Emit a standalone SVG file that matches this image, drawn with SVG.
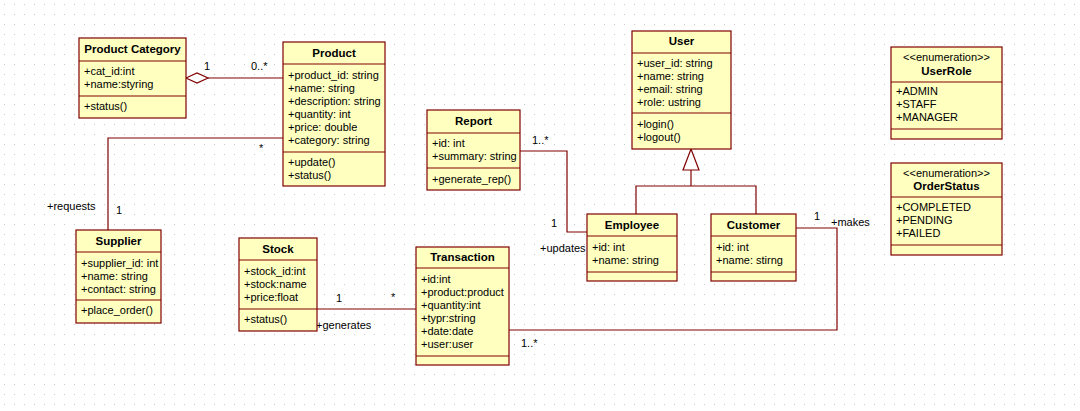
<svg xmlns="http://www.w3.org/2000/svg" width="1080" height="411" viewBox="0 0 1080 411">
<defs>
<pattern id="grid" width="10" height="10" patternUnits="userSpaceOnUse"><rect x="4" y="4" width="1" height="1" fill="#c8c8c8"/></pattern>
<style>
.box{fill:#ffffc0;stroke:#800000;stroke-width:1.2}
.sep{stroke:#800000;stroke-width:1.2}
.t{font-family:"Liberation Sans",Arial,sans-serif;font-size:11px;fill:#000}
.b{font-family:"Liberation Sans",Arial,sans-serif;font-size:11.5px;font-weight:bold;fill:#000;text-anchor:middle}
.c{text-anchor:middle}
.e{fill:none;stroke:#800000;stroke-width:1.2}
.h{fill:#fff;stroke:#800000;stroke-width:1.2}
</style>
</defs>
<rect width="1080" height="411" fill="#fff"/>
<rect width="1080" height="411" fill="url(#grid)"/>

<g id="connectors">
<polygon class="h" points="186,78 197,73 208,78 197,83"/>
<line class="e" x1="208" y1="78" x2="283" y2="78"/>
<polyline class="e" points="283,138 108,138 108,230"/>
<polyline class="e" points="520,151 567,151 567,232 587,232"/>
<polyline class="e" points="691,170 691,186"/>
<polyline class="e" points="636,214 636,186 756,186 756,214"/>
<polygon class="h" points="691,149 683,170 699,170"/>
<polyline class="e" points="796,228 837,228 837,330 509,330"/>
<line class="e" x1="317" y1="309" x2="416" y2="309"/>
<text class="t" x="204" y="70">1</text>
<text class="t" x="251" y="70">0..*</text>
<text class="t" x="259" y="152">*</text>
<text class="t" x="47" y="210">+requests</text>
<text class="t" x="116" y="214">1</text>
<text class="t" x="532" y="144">1..*</text>
<text class="t" x="551" y="227">1</text>
<text class="t" x="540" y="252">+updates</text>
<text class="t" x="814" y="220">1</text>
<text class="t" x="831" y="226">+makes</text>
<text class="t" x="521" y="347">1..*</text>
<text class="t" x="336" y="302">1</text>
<text class="t" x="391" y="301">*</text>
<text class="t" x="316" y="329">+generates</text>
</g>

<g id="product-category">
<rect class="box" x="79" y="38" width="107" height="80"/>
<line class="sep" x1="79" y1="61" x2="186" y2="61"/>
<line class="sep" x1="79" y1="96" x2="186" y2="96"/>
<text class="b" x="132.5" y="53">Product Category</text>
<text class="t" x="84" y="75">+cat_id:int</text>
<text class="t" x="84" y="88">+name:styring</text>
<text class="t" x="84" y="110">+status()</text>
</g>

<g id="product">
<rect class="box" x="283" y="42" width="102" height="144"/>
<line class="sep" x1="283" y1="64" x2="385" y2="64"/>
<line class="sep" x1="283" y1="152" x2="385" y2="152"/>
<text class="b" x="334" y="57">Product</text>
<text class="t" x="288" y="79">+product_id: string</text>
<text class="t" x="288" y="92">+name: string</text>
<text class="t" x="288" y="105">+description: string</text>
<text class="t" x="288" y="118">+quantity: int</text>
<text class="t" x="288" y="131">+price: double</text>
<text class="t" x="288" y="144">+category: string</text>
<text class="t" x="288" y="166">+update()</text>
<text class="t" x="288" y="179">+status()</text>
</g>

<g id="supplier">
<rect class="box" x="76" y="230" width="85" height="93"/>
<line class="sep" x1="76" y1="252" x2="161" y2="252"/>
<line class="sep" x1="76" y1="300" x2="161" y2="300"/>
<text class="b" x="118.5" y="245">Supplier</text>
<text class="t" x="81" y="267">+supplier_id: int</text>
<text class="t" x="81" y="280">+name: string</text>
<text class="t" x="81" y="293">+contact: string</text>
<text class="t" x="81" y="314">+place_order()</text>
</g>

<g id="report">
<rect class="box" x="427" y="110" width="93" height="80"/>
<line class="sep" x1="427" y1="133" x2="520" y2="133"/>
<line class="sep" x1="427" y1="168" x2="520" y2="168"/>
<text class="b" x="473.5" y="125">Report</text>
<text class="t" x="432" y="147">+id: int</text>
<text class="t" x="432" y="160">+summary: string</text>
<text class="t" x="432" y="183">+generate_rep()</text>
</g>

<g id="user">
<rect class="box" x="632" y="31" width="99" height="118"/>
<line class="sep" x1="632" y1="53" x2="731" y2="53"/>
<line class="sep" x1="632" y1="113" x2="731" y2="113"/>
<text class="b" x="681.5" y="45">User</text>
<text class="t" x="637" y="67">+user_id: string</text>
<text class="t" x="637" y="80">+name: string</text>
<text class="t" x="637" y="93">+email: string</text>
<text class="t" x="637" y="106">+role: ustring</text>
<text class="t" x="637" y="128">+login()</text>
<text class="t" x="637" y="141">+logout()</text>
</g>

<g id="employee">
<rect class="box" x="587" y="214" width="90" height="67"/>
<line class="sep" x1="587" y1="236" x2="677" y2="236"/>
<line class="sep" x1="587" y1="272" x2="677" y2="272"/>
<text class="b" x="632" y="229">Employee</text>
<text class="t" x="592" y="251">+id: int</text>
<text class="t" x="592" y="264">+name: string</text>
</g>

<g id="customer">
<rect class="box" x="711" y="214" width="85" height="67"/>
<line class="sep" x1="711" y1="236" x2="796" y2="236"/>
<line class="sep" x1="711" y1="272" x2="796" y2="272"/>
<text class="b" x="753.5" y="229">Customer</text>
<text class="t" x="716" y="251">+id: int</text>
<text class="t" x="716" y="264">+name: stirng</text>
</g>

<g id="stock">
<rect class="box" x="239" y="238" width="78" height="93"/>
<line class="sep" x1="239" y1="260" x2="317" y2="260"/>
<line class="sep" x1="239" y1="309" x2="317" y2="309"/>
<text class="b" x="278" y="253">Stock</text>
<text class="t" x="244" y="275">+stock_id:int</text>
<text class="t" x="244" y="288">+stock:name</text>
<text class="t" x="244" y="301">+price:float</text>
<text class="t" x="244" y="323">+status()</text>
</g>

<g id="transaction">
<rect class="box" x="416" y="247" width="93" height="118"/>
<line class="sep" x1="416" y1="268" x2="509" y2="268"/>
<line class="sep" x1="416" y1="356" x2="509" y2="356"/>
<text class="b" x="462.5" y="261">Transaction</text>
<text class="t" x="421" y="283">+id:int</text>
<text class="t" x="421" y="296">+product:product</text>
<text class="t" x="421" y="309">+quantity:int</text>
<text class="t" x="421" y="322">+typr:string</text>
<text class="t" x="421" y="335">+date:date</text>
<text class="t" x="421" y="348">+user:user</text>
</g>

<g id="userrole">
<rect class="box" x="891" y="47" width="111" height="92"/>
<line class="sep" x1="891" y1="82" x2="1002" y2="82"/>
<line class="sep" x1="891" y1="129" x2="1002" y2="129"/>
<text class="t c" x="946.5" y="61">&lt;&lt;enumeration&gt;&gt;</text>
<text class="b" x="946.5" y="75">UserRole</text>
<text class="t" x="896" y="95">+ADMIN</text>
<text class="t" x="896" y="108">+STAFF</text>
<text class="t" x="896" y="121">+MANAGER</text>
</g>

<g id="orderstatus">
<rect class="box" x="891" y="163" width="111" height="92"/>
<line class="sep" x1="891" y1="197" x2="1002" y2="197"/>
<line class="sep" x1="891" y1="245" x2="1002" y2="245"/>
<text class="t c" x="946.5" y="177">&lt;&lt;enumeration&gt;&gt;</text>
<text class="b" x="946.5" y="190">OrderStatus</text>
<text class="t" x="896" y="211">+COMPLETED</text>
<text class="t" x="896" y="224">+PENDING</text>
<text class="t" x="896" y="237">+FAILED</text>
</g>
</svg>
